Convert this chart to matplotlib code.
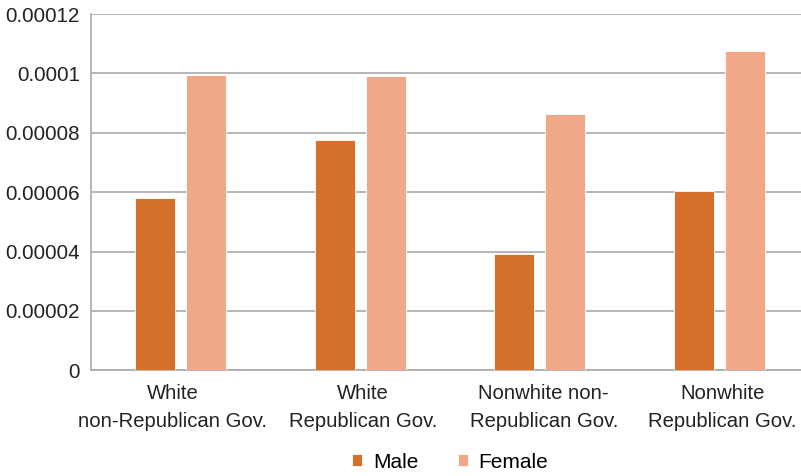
import numpy as np
import matplotlib
matplotlib.use('Agg')
import matplotlib.pyplot as plt
import matplotlib.transforms as mtransforms

plt.rcParams['font.family'] = ['Liberation Sans', 'DejaVu Sans']

categories = ['White\nnon-Republican Gov.', 'White\nRepublican Gov.',
              'Nonwhite non-\nRepublican Gov.', 'Nonwhite\nRepublican Gov.']
male = [0.0000581, 0.0000775, 0.0000390, 0.0000604]
female = [0.0000994, 0.0000991, 0.0000865, 0.0001075]
yticks = [0, 0.00002, 0.00004, 0.00006, 0.00008, 0.0001, 0.00012]
ytick_labels = ['0', '0.00002', '0.00004', '0.00006', '0.00008', '0.0001', '0.00012']

male_color = '#D4702A'
female_color = '#F0A889'

fig = plt.figure(figsize=(8.01, 4.76), dpi=100)
# right edge of the plot runs past the figure, like the original
ax = fig.add_axes([0.1136, 0.2223, 0.8964, 0.748])

x = np.arange(len(categories))
w = 0.223
gap = 0.061
ax.bar(x - (w + gap) / 2, male, w, color=male_color, edgecolor='white', linewidth=0.6, label='Male', zorder=3)
ax.bar(x + (w + gap) / 2, female, w, color=female_color, edgecolor='white', linewidth=0.6, label='Female', zorder=3)

ax.set_xlim(-0.5, len(categories) - 0.5)
ax.set_ylim(0, 0.00012)
ax.set_yticks(yticks)
ax.set_yticklabels(ytick_labels, fontsize=14.8, color='#222222')
ax.set_xticks(x)
ax.set_xticklabels(categories, fontsize=14.6, color='#222222', linespacing=1.58)
ax.tick_params(axis='y', length=0, pad=8)
ax.tick_params(axis='x', length=0, pad=10)

# nudge the category labels a little, as in the original
shifts = [-8, 3, 4, 3]
for lab, dx in zip(ax.get_xticklabels(), shifts):
    lab.set_transform(lab.get_transform() + mtransforms.ScaledTranslation(dx / 100, 0, fig.dpi_scale_trans))

ax.grid(axis='y', color='#AAAAAA', linewidth=1.2, zorder=0)
for s in ['top', 'right']:
    ax.spines[s].set_visible(False)
for s in ['left', 'bottom']:
    ax.spines[s].set_color('#AAAAAA')
    ax.spines[s].set_linewidth(1.2)

fig.legend(loc='lower center', ncol=2, frameon=False, fontsize=15,
           handlelength=0.5, handleheight=0.5, handletextpad=0.5,
           columnspacing=1.9, bbox_to_anchor=(0.562, -0.03))

fig.savefig('out.png', dpi=100)
